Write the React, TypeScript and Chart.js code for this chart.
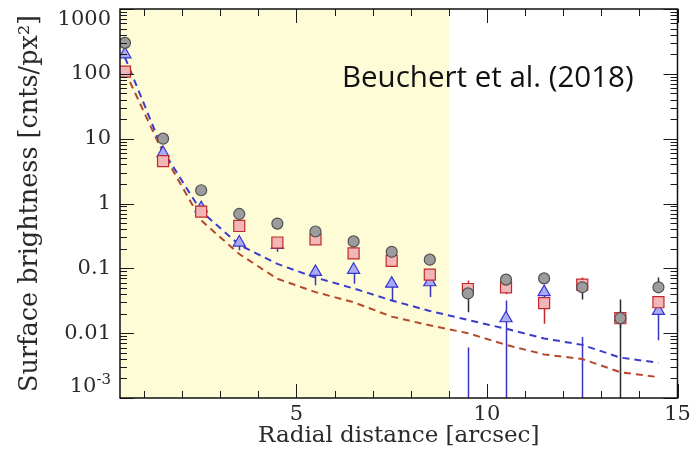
import React, { useEffect, useRef } from 'react';
import { Chart, registerables } from 'chart.js';

Chart.register(...registerables);

// ---- data ----
const radii = [0.5, 1.5, 2.5, 3.5, 4.5, 5.5, 6.5, 7.5, 8.5, 9.5, 10.5, 11.5, 12.5, 13.5, 14.5];

const grayValues = [300, 10, 1.6, 0.69, 0.49, 0.37, 0.26, 0.18, 0.136, 0.041, 0.067, 0.07, 0.051, 0.017, 0.051];
const grayLow = [280, 9.3, 1.45, 0.63, 0.44, 0.33, 0.23, 0.16, 0.12, 0.021, 0.055, 0.058, 0.033, 1e-5, 0.043];
const grayHigh = [320, 10.8, 1.75, 0.75, 0.54, 0.41, 0.29, 0.2, 0.15, 0.055, 0.077, 0.083, 0.06, 0.033, 0.072];

const redValues = [108, 4.5, 0.75, 0.45, 0.25, 0.28, 0.17, 0.13, 0.08, 0.048, 0.051, 0.029, 0.056, 0.017, 0.03];
const redLow = [100, 4.1, 0.68, 0.41, 0.22, 0.25, 0.15, 0.115, 0.07, 0.035, 0.04, 0.014, 0.048, 0.012, 0.025];
const redHigh = [116, 5, 0.82, 0.5, 0.28, 0.31, 0.19, 0.145, 0.09, 0.065, 0.06, 0.035, 0.072, 0.022, 0.036];

const blueValues = [200, 6.0, 0.85, 0.25, 0.23, 0.088, 0.095, 0.058, 0.061, null, 0.017, 0.043, null, null, 0.022];
const blueLow = [185, 5.3, 0.75, 0.19, 0.18, 0.055, 0.058, 0.032, 0.036, 1e-5, 1e-5, 0.036, 1e-5, null, 0.0078];
const blueHigh = [215, 6.8, 0.95, 0.29, 0.27, 0.11, 0.11, 0.068, 0.07, 0.006, 0.032, 0.05, 0.0087, null, 0.026];

const modelBlue = [180, 6.5, 0.76, 0.23, 0.117, 0.072, 0.049, 0.032, 0.022, 0.016, 0.0117, 0.0083, 0.0066, 0.0042, 0.0035];
const modelRed = [110, 6.0, 0.55, 0.166, 0.069, 0.043, 0.03, 0.018, 0.0132, 0.01, 0.0066, 0.0047, 0.004, 0.0025, 0.0021];

const xRange = [0.37, 15];
const yRange = [1e-3, 1e3];
const shadeEnd = 9;

const xTickLabels = [5, 10, 15];
const xMinorTicks = [1, 2, 3, 4, 5, 6, 7, 8, 9, 10, 11, 12, 13, 14, 15];
const yTickValues = [1e-3, 0.01, 0.1, 1, 10, 100, 1000];
const yTickLabels = ['10^-3', '0.01', '0.1', '1', '10', '100', '1000'];

const xTitle = 'Radial distance [arcsec]';
const yTitle = 'Surface brightness [cnts/px²]';
const annotationText = 'Beuchert et al. (2018)';

// ---- styles ----
const SERIF = '"DejaVu Serif", serif';
const TEXT = '#2a2a2a';
const C = {
  shade: '#fefcd6',
  grayFill: '#9c9c9c', grayEdge: '#505050', grayErr: '#2a2a2a',
  redFill: '#f3b6b6', redEdge: '#c0282c', redErr: '#c0282c',
  blueFill: '#aaaaf6', blueEdge: '#3535d0', blueErr: '#3535c0',
  modelBlue: '#3b3bcc', modelRed: '#b4482c',
};

const pts = (vals: (number | null)[]) => radii.map((r, i) => ({ x: r, y: vals[i] }));

const decorPlugin = {
  id: 'decor',
  beforeDatasetsDraw(chart: any) {
    const { ctx, chartArea: a, scales } = chart;
    const x = scales.x, y = scales.y;
    ctx.save();
    ctx.fillStyle = C.shade;
    const xe = x.getPixelForValue(shadeEnd);
    ctx.fillRect(a.left, a.top, xe - a.left, a.bottom - a.top);
    ctx.beginPath();
    ctx.rect(a.left, a.top, a.right - a.left, a.bottom - a.top);
    ctx.clip();
    const series = [
      { lo: blueLow, hi: blueHigh, c: C.blueErr },
      { lo: redLow, hi: redHigh, c: C.redErr },
      { lo: grayLow, hi: grayHigh, c: C.grayErr },
    ];
    ctx.lineWidth = 1.5;
    for (const s of series) {
      ctx.strokeStyle = s.c;
      ctx.beginPath();
      radii.forEach((r, i) => {
        const lo = s.lo[i], hi = s.hi[i];
        if (lo == null || hi == null) return;
        const px = Math.round(x.getPixelForValue(r)) + 0.5;
        ctx.moveTo(px, y.getPixelForValue(lo));
        ctx.lineTo(px, y.getPixelForValue(hi));
      });
      ctx.stroke();
    }
    ctx.restore();
  },
  afterDraw(chart: any) {
    const { ctx, chartArea: a, scales } = chart;
    const x = scales.x, y = scales.y;
    ctx.save();
    ctx.strokeStyle = '#1a1a1a';
    ctx.lineWidth = 1;
    ctx.beginPath();
    // x ticks (top & bottom)
    for (const v of xMinorTicks) {
      const len = xTickLabels.includes(v) ? 14 : 7;
      const px = Math.round(x.getPixelForValue(v)) + 0.5;
      ctx.moveTo(px, a.bottom); ctx.lineTo(px, a.bottom - len);
      ctx.moveTo(px, a.top); ctx.lineTo(px, a.top + len);
    }
    // y ticks (left & right)
    for (const d of yTickValues) {
      for (let k = 1; k <= 9; k++) {
        const v = d * k;
        if (v > yRange[1] * 1.0001) continue;
        const len = k === 1 ? 14 : 7;
        const py = Math.round(y.getPixelForValue(v)) + 0.5;
        ctx.moveTo(a.left, py); ctx.lineTo(a.left + len, py);
        ctx.moveTo(a.right, py); ctx.lineTo(a.right - len, py);
      }
    }
    ctx.stroke();
    // frame
    ctx.lineWidth = 1.5;
    ctx.strokeStyle = '#111';
    ctx.strokeRect(a.left, a.top, a.right - a.left, a.bottom - a.top);
    // y labels
    ctx.fillStyle = TEXT;
    ctx.textAlign = 'right';
    ctx.textBaseline = 'middle';
    const xr = a.left - 9;
    yTickValues.forEach((v, i) => {
      let py = y.getPixelForValue(v);
      py = Math.min(Math.max(py, a.top + 11), a.bottom - 11);
      const label = yTickLabels[i];
      const parts = label.split('^');
      if (parts.length === 2) {
        ctx.font = `15px ${SERIF}`;
        const supW = ctx.measureText(parts[1]).width;
        ctx.fillText(parts[1], xr, py - 7);
        ctx.font = `21px ${SERIF}`;
        ctx.fillText(parts[0], xr - supW, py);
      } else {
        ctx.font = `21px ${SERIF}`;
        ctx.fillText(label, xr, py);
      }
    });
    // annotation
    ctx.fillStyle = '#111';
    ctx.font = '29.5px "Open Sans"';
    ctx.textAlign = 'left';
    ctx.textBaseline = 'alphabetic';
    ctx.fillText(annotationText, 342, 87);
    ctx.restore();
  },
};

export default function App() {
  const ref = useRef<HTMLCanvasElement | null>(null);
  useEffect(() => {
    if (!ref.current) return;
    const chart = new Chart(ref.current, {
      type: 'line',
      data: {
        datasets: [
          { label: 'model blue', data: pts(modelBlue), borderColor: C.modelBlue, borderWidth: 2, borderDash: [7, 5], pointRadius: 0, fill: false, tension: 0, order: 3 } as any,
          { label: 'model red', data: pts(modelRed), borderColor: C.modelRed, borderWidth: 2, borderDash: [7, 5], pointRadius: 0, fill: false, tension: 0, order: 3 } as any,
          { label: 'blue', data: pts(blueValues), showLine: false, pointStyle: 'triangle', pointRadius: 7, backgroundColor: C.blueFill, borderColor: C.blueEdge, borderWidth: 1.2, order: 2 } as any,
          { label: 'red', data: pts(redValues), showLine: false, pointStyle: 'rect', pointRadius: 7.8, backgroundColor: C.redFill, borderColor: C.redEdge, borderWidth: 1.2, order: 1 } as any,
          { label: 'gray', data: pts(grayValues), showLine: false, pointStyle: 'circle', pointRadius: 5.5, backgroundColor: C.grayFill, borderColor: C.grayEdge, borderWidth: 1.2, order: 0 } as any,
        ],
      },
      options: {
        animation: false,
        responsive: false,
        layout: { padding: { top: 7, right: 18.5, left: 0, bottom: 0 } },
        plugins: { legend: { display: false }, tooltip: { enabled: false } },
        scales: {
          x: {
            type: 'linear',
            min: xRange[0],
            max: xRange[1],
            grid: { display: false, drawTicks: false },
            border: { display: false },
            afterBuildTicks: (s: any) => { s.ticks = xTickLabels.map((v) => ({ value: v })); },
            afterFit: (s: any) => { s.height = 60; },
            ticks: { padding: 4, color: TEXT, font: { family: SERIF, size: 21 }, autoSkip: false, maxRotation: 0, callback: (v: any) => String(v) },
            title: { display: true, text: xTitle, color: TEXT, font: { family: SERIF, size: 23 }, padding: { top: 0, bottom: 8 } },
          },
          y: {
            type: 'logarithmic',
            min: yRange[0],
            max: yRange[1],
            grid: { display: false, drawTicks: false },
            border: { display: false },
            ticks: { display: false },
            afterFit: (s: any) => { s.width = 120; },
            title: { display: true, text: yTitle, color: TEXT, font: { family: SERIF, size: 25.5 }, padding: { top: 15, bottom: 0 } },
          },
        },
      } as any,
      plugins: [decorPlugin],
    });
    return () => chart.destroy();
  }, []);
  return (
    <div style={{ position: 'fixed', left: 0, top: 0, width: 696, height: 458, background: '#fff' }}>
      <canvas ref={ref} width={696} height={458} />
    </div>
  );
}
